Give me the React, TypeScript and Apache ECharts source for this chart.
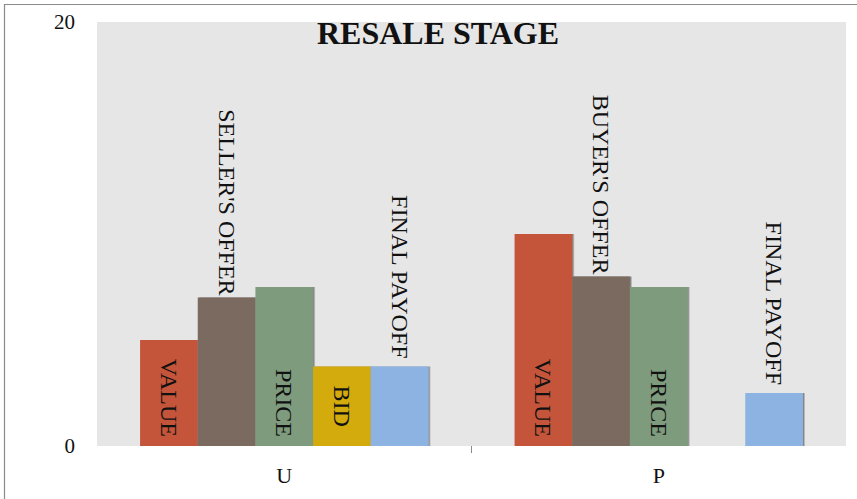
import React, { useEffect, useRef } from "react";
import * as echarts from "echarts";

const categories = ["U", "P"];
const valueData = [5, 10];
const offerData = [7, 8];
const offerLabels = ["SELLER'S OFFER", "BUYER'S OFFER"];
const priceData = [7.5, 7.5];
const bidData: (number | string)[] = [3.75, "-"];
const payoffData = [3.75, 2.5];
const yMin = 0;
const yMax = 20;
const categoryBoundaries = [1];
const titleText = "RESALE STAGE";

const SERIF = "'Liberation Serif', 'DejaVu Serif', serif";

function vLabel(position: string, align: string, distance: number, formatter?: any) {
  return {
    show: true,
    position,
    rotate: -90,
    align,
    verticalAlign: "middle",
    distance,
    color: "#111",
    fontFamily: SERIF,
    fontSize: 24,
    formatter: formatter || "{a}",
  };
}

const shadow = {
  shadowColor: "rgba(50,50,50,0.55)",
  shadowOffsetX: 1.5,
  shadowOffsetY: 0,
  shadowBlur: 0,
};

export default function App() {
  const ref = useRef<HTMLDivElement>(null);
  useEffect(() => {
    if (!ref.current) return;
    const chart = echarts.init(ref.current, undefined, { renderer: "svg" });
    chart.setOption({
      animation: false,
      backgroundColor: "#ffffff",
      title: {
        text: titleText,
        left: 433,
        top: 12,
        textAlign: "center",
        textStyle: { fontFamily: SERIF, fontWeight: "bold", fontSize: 32, color: "#111" },
      },
      graphic: [
        {
          type: "rect",
          shape: { x: 4.5, y: 4.5, width: 900, height: 700 },
          style: { fill: "none", stroke: "#8a8a8a", lineWidth: 1.2 },
          silent: true,
          z: 100,
        },
      ],
      grid: {
        left: 97,
        right: 11,
        top: 22,
        bottom: 53,
        show: true,
        backgroundColor: "#e6e6e6",
        borderWidth: 0,
      },
      xAxis: [
        {
          type: "category",
          data: categories,
          position: "bottom",
          axisLine: { show: false },
          axisTick: { show: false },
          axisLabel: { fontFamily: SERIF, fontSize: 22, color: "#111", margin: 18 },
        },
        {
          type: "value",
          min: 0,
          max: categories.length,
          position: "bottom",
          axisLine: { show: false },
          axisLabel: { show: false },
          splitLine: { show: false },
          axisTick: {
            show: true,
            customValues: categoryBoundaries,
            length: 7,
            lineStyle: { color: "#8a8a8a", width: 1 },
          },
        },
      ],
      yAxis: {
        type: "value",
        min: yMin,
        max: yMax,
        interval: 20,
        axisLine: { show: false },
        axisTick: { show: false },
        splitLine: { show: false },
        axisLabel: { fontFamily: SERIF, fontSize: 21, color: "#111", margin: 22 },
      },
      series: [
        {
          name: "VALUE",
          type: "bar",
          xAxisIndex: 0,
          data: valueData,
          barGap: "0%",
          barCategoryGap: "23%",
          itemStyle: { color: "#c4553a", ...shadow },
          label: vLabel("insideBottom", "right", 9),
        },
        {
          name: "OFFER",
          type: "bar",
          xAxisIndex: 0,
          data: offerData,
          itemStyle: { color: "#7a6b60", ...shadow },
          label: vLabel("top", "right", 2, (p: any) => offerLabels[p.dataIndex]),
        },
        {
          name: "PRICE",
          type: "bar",
          xAxisIndex: 0,
          data: priceData,
          itemStyle: { color: "#7e9b7d", ...shadow },
          label: vLabel("insideBottom", "right", 9),
        },
        {
          name: "BID",
          type: "bar",
          xAxisIndex: 0,
          data: bidData,
          itemStyle: { color: "#d3ab0b", ...shadow },
          label: vLabel("inside", "center", 0),
        },
        {
          name: "FINAL PAYOFF",
          type: "bar",
          xAxisIndex: 0,
          data: payoffData,
          itemStyle: { color: "#8db3e3", ...shadow },
          label: vLabel("top", "right", 8),
        },
      ],
    });
    return () => chart.dispose();
  }, []);
  return (
    <div
      ref={ref}
      style={{ position: "fixed", left: 0, top: 0, width: 857, height: 499 }}
    />
  );
}
